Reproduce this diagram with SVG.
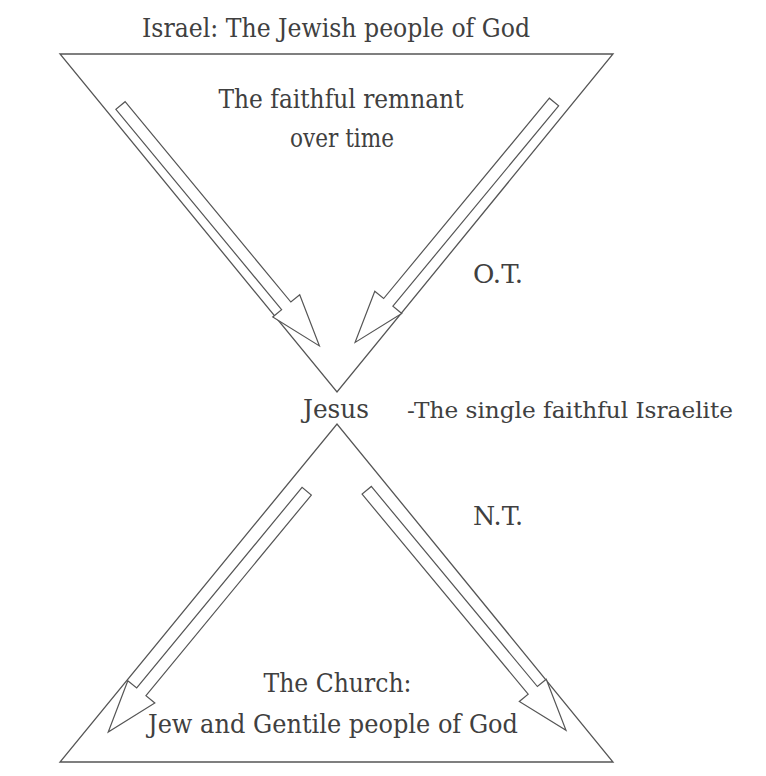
<svg xmlns="http://www.w3.org/2000/svg" xmlns:xlink="http://www.w3.org/1999/xlink" width="766" height="776" viewBox="0 0 766 776">
<style>
  .tri { fill: none; stroke: #555; stroke-width: 1.3; stroke-linejoin: miter; }
  .arr { fill: #fff; stroke: #555; stroke-width: 1.2; stroke-linejoin: miter; }
  .t { font-family: 'DejaVu Serif', 'Liberation Serif', serif; font-size: 26px; fill: #404040; }
  .s { font-size: 22px; }
</style>
<defs>
  <path id="blockArrow" d="M0,-6 L260,-6 L260,-17.5 L312,0 L260,17.5 L260,6 L0,6 Z"/>
</defs>
<rect width="766" height="776" fill="#fff"/>
<g id="israel">
  <polygon class="tri" points="60,54 613,54 337,392"/>
  <text class="t" x="336" y="37" text-anchor="middle" textLength="388" lengthAdjust="spacingAndGlyphs">Israel: The Jewish people of God</text>
  <text class="t" x="341" y="108" text-anchor="middle" textLength="245" lengthAdjust="spacingAndGlyphs">The faithful remnant</text>
  <text class="t" x="342" y="147" text-anchor="middle" textLength="104" lengthAdjust="spacingAndGlyphs">over time</text>
</g>
<g id="church">
  <polygon class="tri" points="60,762 613,762 337,424"/>
  <text class="t" x="337.5" y="692" text-anchor="middle" textLength="148" lengthAdjust="spacingAndGlyphs">The Church:</text>
  <text class="t" x="333" y="733" text-anchor="middle" textLength="370" lengthAdjust="spacingAndGlyphs">Jew and Gentile people of God</text>
</g>
<g id="jesus">
  <text class="t" x="336" y="418" text-anchor="middle" textLength="66" lengthAdjust="spacingAndGlyphs">Jesus</text>
  <text class="t s" x="407" y="418" textLength="326" lengthAdjust="spacingAndGlyphs">-The single faithful Israelite</text>
</g>
<g id="labels">
  <text class="t" x="473" y="283" textLength="50" lengthAdjust="spacingAndGlyphs">O.T.</text>
  <text class="t" x="473" y="525" textLength="50" lengthAdjust="spacingAndGlyphs">N.T.</text>
</g>
<g id="connectors">
  <use xlink:href="#blockArrow" class="arr" transform="translate(120.5,105.5) rotate(50.4)"/>
  <use xlink:href="#blockArrow" class="arr" transform="translate(554,102) rotate(129.6)"/>
  <use xlink:href="#blockArrow" class="arr" transform="translate(306.7,491.2) rotate(129.5)"/>
  <use xlink:href="#blockArrow" class="arr" transform="translate(366.7,490.3) rotate(50.3)"/>
</g>
</svg>
